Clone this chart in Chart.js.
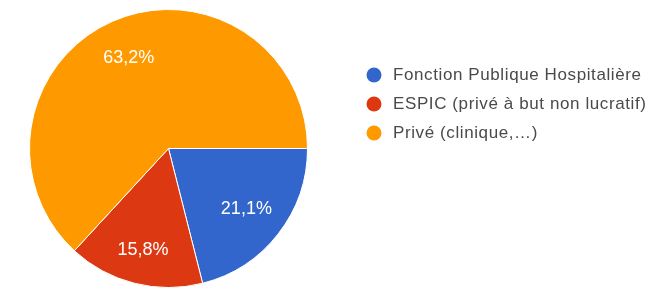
<!DOCTYPE html>
<html>
<head>
<meta charset="utf-8">
<script src="https://cdn.jsdelivr.net/npm/chart.js@4.4.0/dist/chart.umd.min.js"></script>
<style>
  html, body { margin: 0; padding: 0; background: #fff; }
  #wrap { position: relative; width: 671px; height: 290px; }
</style>
</head>
<body>
<div id="wrap"><canvas id="pieChart" width="671" height="290"></canvas></div>
<script>
// Data (counts out of 19 responses)
const labels = ["Fonction Publique Hospitalière", "ESPIC (privé à but non lucratif)", "Privé (clinique,…)"];
const counts = [4, 3, 12];
const colors = ["#3366cc", "#dc3912", "#ff9900"];

// how far out (fraction of radius) each percent label sits
const labelRadius = [0.71, 0.75, 0.71];

const total = counts.reduce((a, b) => a + b, 0);
function pct(v) {
  return (v / total * 100).toFixed(1).replace(".", ",") + "%";
}

// Percent labels inside each slice
const sliceLabels = {
  id: "sliceLabels",
  afterDatasetsDraw(chart) {
    const ctx = chart.ctx;
    const meta = chart.getDatasetMeta(0);
    ctx.save();
    ctx.font = "18px 'Liberation Sans', Arial, sans-serif";
    ctx.fillStyle = "#ffffff";
    ctx.textAlign = "center";
    ctx.textBaseline = "middle";
    meta.data.forEach((arc, i) => {
      const mid = (arc.startAngle + arc.endAngle) / 2;
      const r = arc.outerRadius * labelRadius[i];
      ctx.fillText(pct(counts[i]), arc.x + Math.cos(mid) * r, arc.y + Math.sin(mid) * r);
    });
    ctx.restore();
  }
};

// Legend on the right, drawn by hand to match the layout
const sideLegend = {
  id: "sideLegend",
  afterDraw(chart) {
    const ctx = chart.ctx;
    ctx.save();
    ctx.font = "17px 'Liberation Sans', Arial, sans-serif";
    ctx.letterSpacing = "0.6px";
    ctx.textBaseline = "middle";
    labels.forEach((lab, i) => {
      const y = 75 + i * 29;
      ctx.beginPath();
      ctx.arc(374, y, 7.5, 0, Math.PI * 2);
      ctx.fillStyle = colors[i];
      ctx.fill();
      ctx.fillStyle = "#4a4a4a";
      ctx.fillText(lab, 393, y);
    });
    ctx.restore();
  }
};

new Chart(document.getElementById("pieChart"), {
  type: "pie",
  data: {
    labels: labels,
    datasets: [{
      data: counts,
      backgroundColor: colors,
      borderColor: "#ffffff",
      borderWidth: 1
    }]
  },
  options: {
    responsive: false,
    animation: false,
    rotation: 90,
    layout: { padding: { left: 29, right: 363, top: 8, bottom: 1 } },
    plugins: {
      legend: { display: false },
      tooltip: { enabled: false }
    }
  },
  plugins: [sliceLabels, sideLegend]
});
</script>
</body>
</html>
